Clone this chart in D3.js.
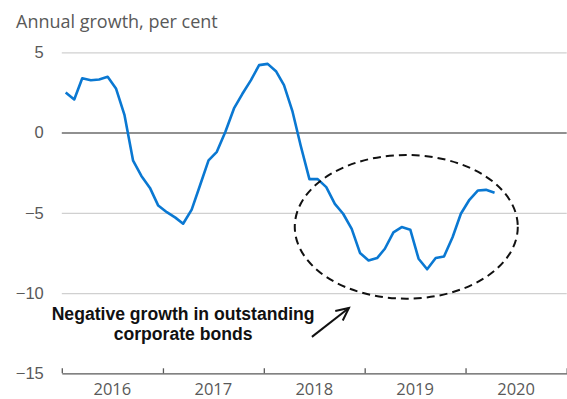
<!DOCTYPE html>
<html>
<head>
<meta charset="utf-8">
<script src="https://cdn.jsdelivr.net/npm/d3@7"></script>
<style>
  body { margin: 0; background: #fff; }
  svg { display: block; font-family: "Open Sans", "Noto Sans", sans-serif; }
  .tick text { fill: #595959; }
</style>
</head>
<body>
<div id="chart"></div>
<script>
// monthly annual growth, Jan 2016 - Apr 2020
var startMonth = new Date(2016, 0, 1), endMonth = new Date(2020, 4, 1);
var growth = [
  2.5, 2.06, 3.38, 3.26, 3.31, 3.47, 2.75, 1.08, -1.75, -2.7, -3.45, -4.55,
  -4.96, -5.3, -5.68, -4.8, -3.3, -1.73, -1.2, 0.05, 1.5, 2.4, 3.25, 4.2,
  4.28, 3.8, 2.95, 1.3, -0.85, -2.9, -2.9, -3.4, -4.44, -5.06, -6.0, -7.5,
  -7.97, -7.82, -7.24, -6.22, -5.89, -6.05, -7.86, -8.52, -7.82, -7.72, -6.52, -5.06,
  -4.19, -3.61, -3.57, -3.75
];
var yTicks = [5, 0, -5, -10, -15];
var years = [2016, 2017, 2018, 2019, 2020];
var yLabel = "Annual growth, per cent";
var noteLines = ["Negative growth in outstanding", "corporate bonds"];

var W = 567, H = 399;
var margin = {top: 52.3, right: 0.3, bottom: 25.7, left: 61.8};

var svg = d3.select("#chart").append("svg").attr("width", W).attr("height", H);

var x = d3.scaleTime()
    .domain([new Date(2016, 0, 1), new Date(2021, 0, 1)])
    .range([margin.left, W - margin.right]);
var y = d3.scaleLinear().domain([-15, 5]).range([H - margin.bottom, margin.top]);

var data = d3.timeMonth.range(startMonth, endMonth).map(function(d, i) {
  return {date: d3.timeDay.offset(d, 14), v: growth[i]};
});

// title
svg.append("text").attr("x", 16).attr("y", 28)
    .attr("fill", "#595959").style("font-size", "18px").text(yLabel);

// gridlines + y labels
var yAxis = svg.append("g")
    .attr("transform", `translate(${margin.left},0)`)
    .call(d3.axisLeft(y).tickValues(yTicks).tickSize(0).tickPadding(18));
yAxis.select(".domain").remove();
yAxis.selectAll(".tick text").style("font-size", "16.5px");
yAxis.selectAll(".tick").filter(function(d){return d > -15;}).append("line")
    .attr("x2", W - margin.right - margin.left)
    .attr("stroke", function(d){return d === 0 ? "#6b6b6b" : "#d0d0d0";})
    .attr("stroke-width", function(d){return d === 0 ? 1.4 : 1.2;});

// x axis
var xAxis = svg.append("g")
    .attr("transform", `translate(0,${y(-15)})`)
    .call(d3.axisBottom(x).tickValues(years.concat([2021]).map(function(yr){return new Date(yr,0,1);}))
      .tickSizeInner(-5).tickSizeOuter(0).tickFormat(""));
xAxis.select(".domain").attr("stroke", "#595959").attr("stroke-width", 1.3);
xAxis.selectAll(".tick line").attr("stroke", "#595959").attr("stroke-width", 1.3);
svg.append("g").selectAll("text").data(years).enter().append("text")
    .attr("x", function(yr){return (x(new Date(yr,0,1)) + x(new Date(yr+1,0,1))) / 2;})
    .attr("y", 394.5)
    .attr("text-anchor", "middle").attr("fill", "#595959").style("font-size", "16.5px")
    .text(function(yr){return yr;});

// series line
svg.append("path").datum(data)
    .attr("fill", "none").attr("stroke", "#0a78d2").attr("stroke-width", 2.6)
    .attr("stroke-linejoin", "round")
    .attr("d", d3.line().x(function(d){return x(d.date);}).y(function(d){return y(d.v);}));

// annotation: dashed ellipse around 2018-2020 trough
var ex0 = x(new Date(2018, 3, 23)), ex1 = x(new Date(2020, 6, 8));
var ey0 = y(-1.4), ey1 = y(-10.35);
svg.append("ellipse")
    .attr("cx", (ex0 + ex1) / 2).attr("cy", (ey0 + ey1) / 2)
    .attr("rx", (ex1 - ex0) / 2).attr("ry", (ey1 - ey0) / 2)
    .attr("fill", "none").attr("stroke", "#111").attr("stroke-width", 2)
    .attr("stroke-dasharray", "8,5");

// arrow
var ax0 = x(new Date(2018, 5, 24)), ay0 = y(-12.73);
var ax1 = x(new Date(2018, 10, 5)), ay1 = y(-10.93);
var ang = Math.atan2(ay1 - ay0, ax1 - ax0), head = 14;
var arrow = svg.append("g").attr("stroke", "#111").attr("stroke-width", 2).attr("fill", "none");
arrow.append("line").attr("x1", ax0).attr("y1", ay0).attr("x2", ax1).attr("y2", ay1);
arrow.append("path")
    .attr("d", `M${ax1 + head*Math.cos(ang + Math.PI - 0.45)},${ay1 + head*Math.sin(ang + Math.PI - 0.45)}`
      + `L${ax1},${ay1}`
      + `L${ax1 + head*Math.cos(ang + Math.PI + 0.45)},${ay1 + head*Math.sin(ang + Math.PI + 0.45)}`);

svg.append("g").attr("fill", "#111")
    .style("font-family", "'Liberation Sans', Arial, sans-serif")
    .style("font-size", "17.6px").style("font-weight", "bold")
    .selectAll("text").data(noteLines).enter().append("text")
    .attr("text-anchor", "middle")
    .attr("x", x(new Date(2017, 2, 15)))
    .attr("y", function(d, i){return 320 + i * 20;})
    .text(function(d){return d;});
</script>
</body>
</html>
